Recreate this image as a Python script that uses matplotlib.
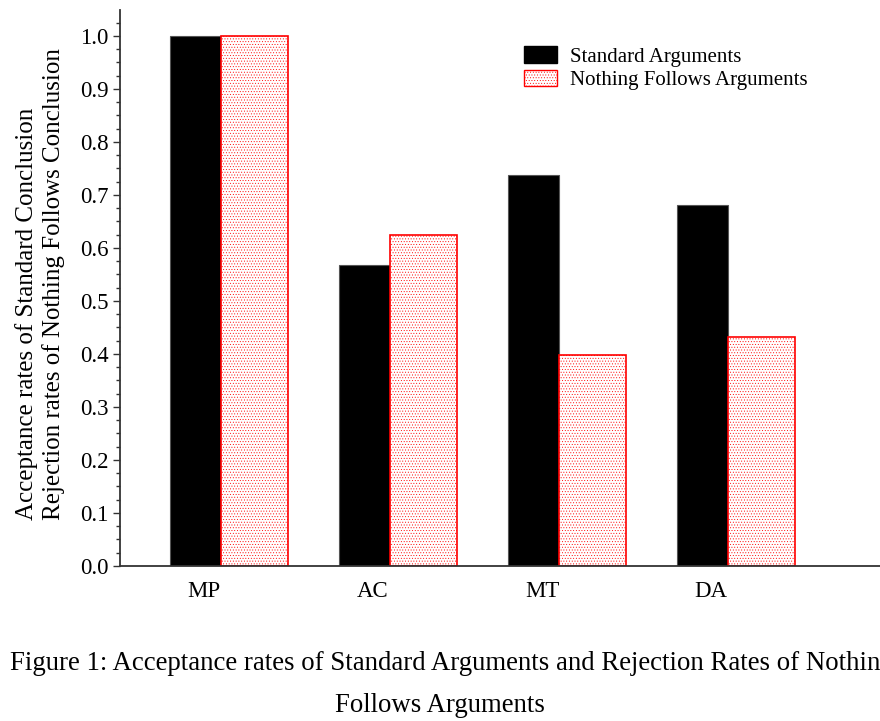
import matplotlib
matplotlib.use("Agg")
import matplotlib.pyplot as plt
from matplotlib.patches import Patch
from matplotlib.ticker import MultipleLocator

# ---------- data ----------
categories = ["MP", "AC", "MT", "DA"]
standard = [1.0, 0.567, 0.738, 0.682]
nothing_follows = [1.0, 0.625, 0.398, 0.432]

plt.rcParams["font.family"] = ["Liberation Serif", "DejaVu Serif"]
plt.rcParams["hatch.linewidth"] = 0.35

W, H = 880, 721
fig = plt.figure(figsize=(W / 100, H / 100), dpi=100)

# axes box in pixel terms (left spine x=120, x-axis y=566, top y=10)
ax_l, ax_r, ax_b, ax_t = 120, 880, 566, 10
ax = fig.add_axes([ax_l / W, (H - ax_b) / H, (ax_r - ax_l) / W, (ax_b - ax_t) / H])

x = list(range(len(categories)))
# 1 group unit = 169 px; black bar starts 34 px left of the label centre
blk_off, blk_w = -34 / 169, 50.5 / 169
red_w = 67.5 / 169
blk_left = [i + blk_off for i in x]
red_left = [i + blk_off + blk_w for i in x]

ax.bar(blk_left, standard, width=blk_w, align="edge", color="black",
       edgecolor="#555555", linewidth=0.8, label="Standard Arguments")
ax.bar(red_left, nothing_follows, width=red_w, align="edge", facecolor="white",
       edgecolor="red", hatch="." * 6, linewidth=1.2,
       label="Nothing Follows Arguments")

ax.set_xlim((ax_l - 204) / 169, (ax_r - 204) / 169)
ax.set_ylim(0, 1.049)
ax.set_xticks(x)
ax.set_xticklabels(categories, fontsize=16.5)
ax.tick_params(axis="x", length=0, pad=11)
ax.yaxis.set_minor_locator(MultipleLocator(0.025))
ax.set_yticks([i / 10 for i in range(11)])
ax.set_yticklabels([f"{i / 10:.1f}" for i in range(11)], fontsize=16.5)
ax.tick_params(axis="y", which="major", length=5, width=1, pad=3, color="#333333")
ax.tick_params(axis="y", which="minor", length=3, width=1, color="#333333")
for side in ("top", "right"):
    ax.spines[side].set_visible(False)
for side in ("left", "bottom"):
    ax.spines[side].set_color("#333333")
    ax.spines[side].set_linewidth(1.3)

fig.text(40 / W, (H - 520) / H,
         "Acceptance rates of Standard Conclusion\n"
         "Rejection rates of Nothing Follows Conclusion",
         rotation=90, ha="center", va="bottom", multialignment="left",
         fontsize=18, linespacing=1.22)

handles = [Patch(facecolor="black", edgecolor="black"),
           Patch(facecolor="white", edgecolor="red", hatch="." * 6)]
fig.legend(handles, ["Standard Arguments", "Nothing Follows Arguments"],
           loc="upper left", bbox_to_anchor=(524 / W, (H - 46) / H),
           frameon=False, fontsize=15, handlelength=1.6, handleheight=0.85,
           handletextpad=0.6, labelspacing=0.15, borderpad=0, borderaxespad=0)

# the caption runs past the right edge in the source figure as well
fig.text(10 / W, (H - 670) / H,
         "Figure 1: Acceptance rates of Standard Arguments and Rejection Rates of Nothing",
         ha="left", va="baseline", fontsize=19.3)
fig.text(440 / W, (H - 712) / H, "Follows Arguments",
         ha="center", va="baseline", fontsize=19.3)

fig.savefig("out.png", dpi=100)
